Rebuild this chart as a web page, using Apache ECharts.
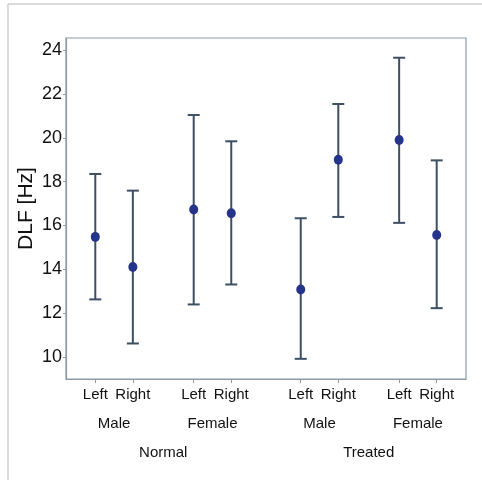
<!DOCTYPE html>
<html>
<head>
<meta charset="utf-8">
<script src="https://cdn.jsdelivr.net/npm/echarts@6/dist/echarts.min.js"></script>
<style>
html,body{margin:0;padding:0;background:#fff;}
#chart{width:482px;height:480px;}
</style>
</head>
<body>
<div id="chart"></div>
<script>
// ---- data ----
var treatments = ['Normal', 'Treated'];
var sexes = ['Male', 'Female'];
var sides = ['Left', 'Right'];
var means = [15.48, 14.11, 16.73, 16.56, 13.08, 19.0, 19.9, 15.57];
var upper = [18.35, 17.59, 21.04, 19.84, 16.33, 21.54, 23.65, 18.97];
var lower = [12.63, 10.62, 12.4, 13.31, 9.92, 16.39, 16.12, 12.23];
var yTicks = [10, 12, 14, 16, 18, 20, 22, 24];

// ---- layout of nested categories (slot index + gaps between groups) ----
var PAIR_GAP = 0.62, GROUP_GAP = 0.23;
var slots = [];
var sideLabels = [];
for (var g = 0; g < treatments.length; g++) {
  for (var s = 0; s < sexes.length; s++) {
    for (var d = 0; d < sides.length; d++) {
      var i = slots.length;
      var pair = g * sexes.length + s;
      slots.push(i + PAIR_GAP * pair + GROUP_GAP * g);
      sideLabels.push(sides[d]);
    }
  }
}
var sexPos = [], sexLabels = [];
for (var p = 0; p < slots.length / 2; p++) {
  sexPos.push((slots[2 * p] + slots[2 * p + 1]) / 2);
  sexLabels.push(sexes[p % 2]);
}
var trtPos = [], trtLabels = [];
for (var g2 = 0; g2 < treatments.length; g2++) {
  trtPos.push((slots[4 * g2] + slots[4 * g2 + 3]) / 2);
  trtLabels.push(treatments[g2]);
}
var xMin = slots[0] - 0.78, xMax = slots[slots.length - 1] + 0.78;

var barData = [], meanData = [];
for (var k = 0; k < slots.length; k++) {
  barData.push([slots[k], lower[k], upper[k]]);
  meanData.push([slots[k], means[k]]);
}

function lookup(posArr, labArr) {
  return function (v) {
    for (var j = 0; j < posArr.length; j++) {
      if (Math.abs(posArr[j] - v) < 1e-6) return labArr[j];
    }
    return '';
  };
}

var FONT = "'Liberation Sans', Arial, sans-serif";
var chart = echarts.init(document.getElementById('chart'), null, {renderer: 'canvas'});

function catAxis(posArr, labArr, offset, margin) {
  return {
    type: 'value', min: xMin, max: xMax, position: 'bottom', offset: offset,
    axisLine: {show: false, onZero: false},
    axisTick: {show: false},
    splitLine: {show: false},
    axisLabel: {
      customValues: posArr, formatter: lookup(posArr, labArr),
      color: '#111', fontFamily: FONT, fontSize: 15, margin: margin
    }
  };
}

var bottomAxis = catAxis(slots, sideLabels, 0, 8);
bottomAxis.axisLine = {show: true, onZero: false, lineStyle: {color: '#8d9ba6', width: 1.2}};
bottomAxis.axisTick = {show: true, customValues: slots, length: 4, lineStyle: {color: '#8d9ba6', width: 1}};

var option = {
  animation: false,
  backgroundColor: '#fff',
  graphic: [
    {type: 'line', shape: {x1: 8, y1: 4, x2: 482, y2: 4}, style: {stroke: '#cfcfcf', lineWidth: 1.5}},
    {type: 'line', shape: {x1: 8, y1: 4, x2: 8, y2: 480}, style: {stroke: '#cfcfcf', lineWidth: 1.5}}
  ],
  grid: {
    left: 66, right: 16, top: 38, bottom: 101,
    show: true, borderColor: '#8d9ba6', borderWidth: 1.2, backgroundColor: 'transparent'
  },
  xAxis: [
    bottomAxis,
    catAxis(sexPos, sexLabels, 29, 8),
    catAxis(trtPos, trtLabels, 58, 8)
  ],
  yAxis: {
    type: 'value', min: 9, max: 24.55,
    name: 'DLF [Hz]', nameLocation: 'middle', nameGap: 29, nameRotate: 90,
    nameMoveOverlap: false,
    nameTextStyle: {fontFamily: FONT, fontSize: 21, color: '#111'},
    axisLine: {show: true, onZero: false, lineStyle: {color: '#8d9ba6', width: 1.2}},
    splitLine: {show: false},
    axisTick: {show: true, customValues: yTicks, length: 3, lineStyle: {color: '#8d9ba6', width: 1}},
    axisLabel: {customValues: yTicks, color: '#111', fontFamily: FONT, fontSize: 18, margin: 4}
  },
  series: [
    {
      type: 'custom',
      data: barData,
      encode: {x: 0, y: [1, 2]},
      renderItem: function (params, api) {
        var x = api.value(0);
        var lo = api.coord([x, api.value(1)]);
        var hi = api.coord([x, api.value(2)]);
        var hw = 6;
        var st = {stroke: '#3d4f63', lineWidth: 2};
        return {
          type: 'group',
          children: [
            {type: 'line', shape: {x1: lo[0], y1: lo[1], x2: hi[0], y2: hi[1]}, style: st},
            {type: 'line', shape: {x1: hi[0] - hw, y1: hi[1], x2: hi[0] + hw, y2: hi[1]}, style: st},
            {type: 'line', shape: {x1: lo[0] - hw, y1: lo[1], x2: lo[0] + hw, y2: lo[1]}, style: st}
          ]
        };
      }
    },
    {
      type: 'scatter',
      data: meanData,
      symbol: 'circle',
      symbolSize: [9, 10],
      itemStyle: {color: '#26338a', opacity: 1},
      z: 5
    }
  ]
};
chart.setOption(option);
</script>
</body>
</html>
